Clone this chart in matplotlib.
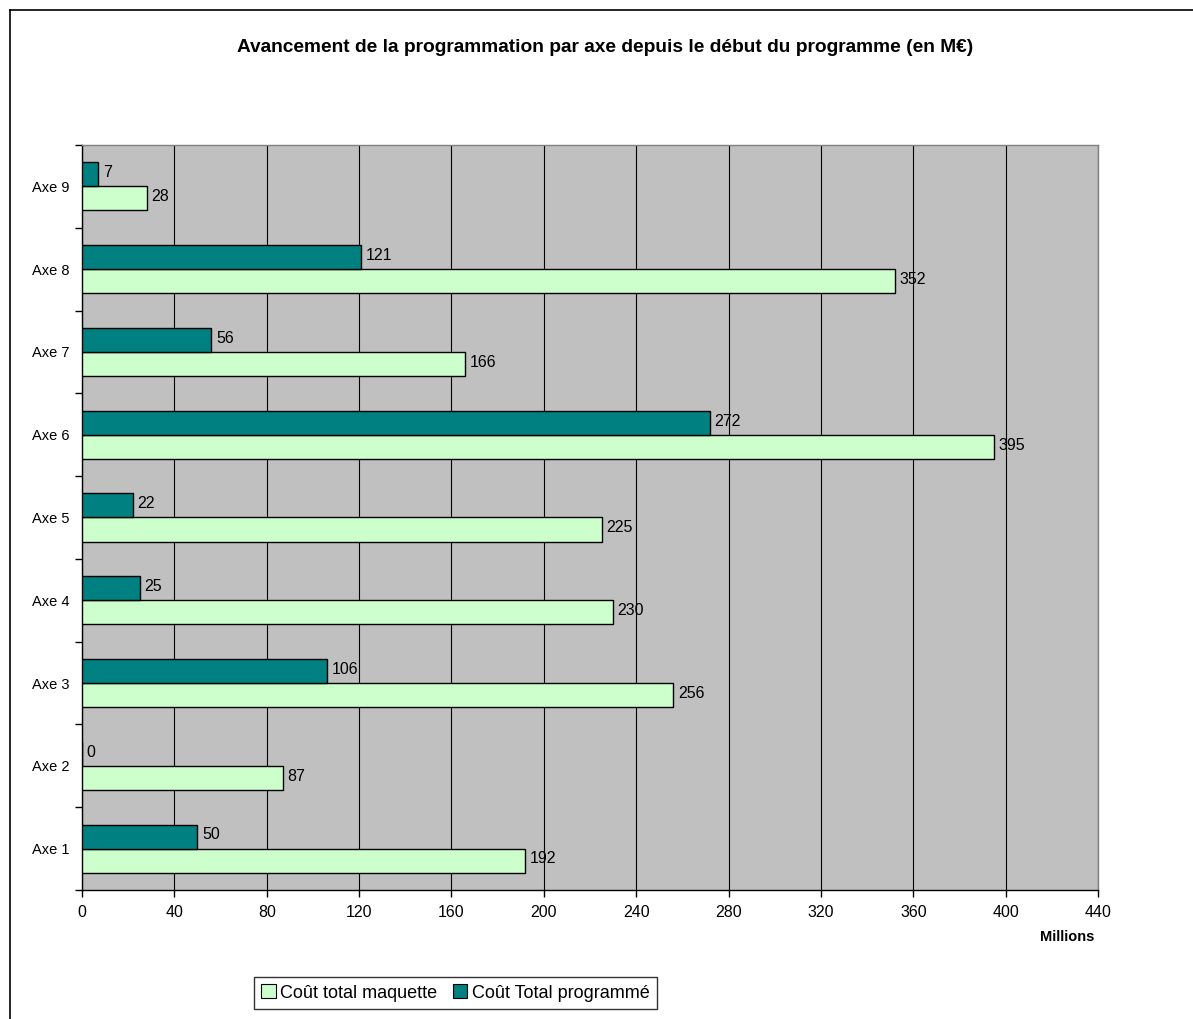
import matplotlib.pyplot as plt
from matplotlib.lines import Line2D
from matplotlib.patches import Patch
import numpy as np

plt.rcParams['font.family'] = ['Liberation Sans', 'DejaVu Sans']

# Programme data (M€), bottom to top
axes_labels = ["Axe 1", "Axe 2", "Axe 3", "Axe 4", "Axe 5", "Axe 6", "Axe 7", "Axe 8", "Axe 9"]
cout_maquette = [192, 87, 256, 230, 225, 395, 166, 352, 28]
cout_programme = [50, 0, 106, 25, 22, 272, 56, 121, 7]
x_ticks = [0, 40, 80, 120, 160, 200, 240, 280, 320, 360, 400, 440]

green = "#CCFFCC"
teal = "#008080"

fig = plt.figure(figsize=(11.93, 10.19), dpi=100)
ax = fig.add_axes([0.0687, 0.1266, 0.8517, 0.7311])
ax.set_facecolor("#C0C0C0")

y = np.arange(len(axes_labels))
h = 0.29
ax.barh(y - h / 2, cout_maquette, height=h, color=green, edgecolor="black", linewidth=1, zorder=3)
ax.barh(y + h / 2, cout_programme, height=h, color=teal, edgecolor="black", linewidth=1, zorder=3)

for yi, v in zip(y, cout_maquette):
    ax.text(v + 2, yi - h / 2 + 0.02, str(v), va="center", ha="left", fontsize=11.5, zorder=4)
for yi, v in zip(y, cout_programme):
    ax.text(v + 2, yi + h / 2 + 0.02, str(v), va="center", ha="left", fontsize=11.5, zorder=4)

ax.set_xlim(0, 440)
ax.set_ylim(-0.5, len(axes_labels) - 0.5)
ax.set_xticks(x_ticks)
ax.set_xticklabels([str(t) for t in x_ticks], fontsize=11.5)
ax.xaxis.grid(True, color="black", linewidth=0.8, zorder=0)
ax.set_axisbelow(True)
ax.tick_params(axis="x", direction="out", length=5, width=1, pad=6)

ax.set_yticks(y)
ax.set_yticklabels(axes_labels, fontsize=10.5)
ax.tick_params(axis="y", which="major", length=0, pad=9)
ax.set_yticks(np.arange(-0.5, len(axes_labels)), minor=True)
ax.tick_params(axis="y", which="minor", direction="out", length=5, width=1)

for side in ["left", "bottom"]:
    ax.spines[side].set_color("black")
    ax.spines[side].set_linewidth(1)
for side in ["top", "right"]:
    ax.spines[side].set_color("#808080")
    ax.spines[side].set_linewidth(1)

fig.text(0.507, 1 - 48 / 1019, "Avancement de la programmation par axe depuis le début du programme (en M€)",
         ha="center", va="center", fontsize=13.8, fontweight="bold")
fig.text(1067 / 1193, 1 - 937 / 1019, "Millions", ha="center", va="center", fontsize=10.5, fontweight="bold")

handles = [Patch(facecolor=green, edgecolor="black", linewidth=0.8),
           Patch(facecolor=teal, edgecolor="black", linewidth=0.8)]
leg = fig.legend(handles, ["Coût total maquette", "Coût Total programmé"], ncol=2,
                 loc="center", bbox_to_anchor=(455.5 / 1193, 1 - 993 / 1019),
                 fontsize=13, frameon=True, fancybox=False, handlelength=0.8, handleheight=0.8,
                 handletextpad=0.25, columnspacing=0.85, borderpad=0.4, borderaxespad=0)
leg.get_frame().set_edgecolor("black")
leg.get_frame().set_linewidth(1)

# chart area border
fig.add_artist(Line2D([10 / 1193, 10 / 1193], [0, 1 - 10 / 1019], color="black", linewidth=1.2))
fig.add_artist(Line2D([10 / 1193, 1], [1 - 10 / 1019, 1 - 10 / 1019], color="black", linewidth=1.2))

fig.savefig("out.png", dpi=100)
